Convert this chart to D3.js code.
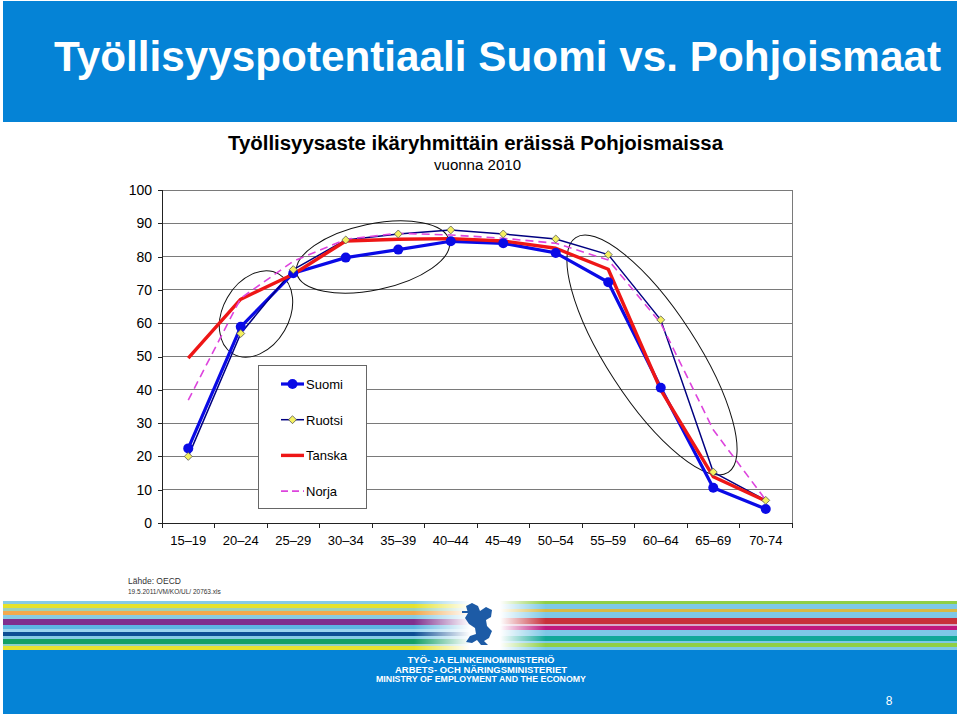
<!DOCTYPE html>
<html>
<head>
<meta charset="utf-8">
<script src="https://cdn.jsdelivr.net/npm/d3@7"></script>
<style>
  html, body { margin: 0; padding: 0; background: #fff; }
  svg { display: block; font-family: "Liberation Sans", Arial, sans-serif; }
</style>
</head>
<body>
<svg id="chart" width="960" height="716"></svg>
<script>

// 年齢層 (x 軸のカテゴリ)
const ageGroups = ["15\u201319", "20\u201324", "25\u201329", "30\u201334", "35\u201339", "40\u201344",
  "45\u201349", "50\u201354", "55\u201359", "60\u201364", "65\u201369", "70-74"];

// 各国の就業率 (%)
const suomi  = [22.4, 58.9, 75.0, 79.7, 82.1, 84.6, 84.0, 81.1, 72.3, 40.6, 10.6, 4.2];
const ruotsi = [20.0, 56.9, 76.1, 85.0, 86.8, 88.0, 86.8, 85.3, 80.6, 61.0, 15.3, 6.8];
const tanska = [49.5, 67.2, 74.7, 84.7, 85.2, 85.4, 84.7, 82.5, 76.2, 40.0, 13.9, 6.6];
const norja  = [36.9, 67.5, 78.6, 85.2, 87.0, 86.5, 85.5, 84.0, 79.0, 60.0, 28.0, 6.9];

// 凡例の名前
const seriesNames = ["Suomi", "Ruotsi", "Tanska", "Norja"];

// y 軸の目盛り
const yTicks = [0, 10, 20, 30, 40, 50, 60, 70, 80, 90, 100];

// 見出しのテキスト
const titleText = "Työllisyyspotentiaali Suomi vs. Pohjoismaat";
const chartTitle = "Työllisyysaste ikäryhmittäin eräissä Pohjoismaissa";
const chartSubtitle = "vuonna 2010";
const sourceLines = ["Lähde: OECD", "19.5.2011/VM/KO/UL/ 20763.xls"];
const ministryLines = ["TYÖ- JA ELINKEINOMINISTERIÖ", "ARBETS- OCH NÄRINGSMINISTERIET",
  "MINISTRY OF EMPLOYMENT AND THE ECONOMY"];
const pageNumber = "8";

// 系列ごとのスタイル
const styles = {
  Suomi:  {values: suomi,  color: "#0a0ae6", width: 3.2, dash: null, marker: "circle"},
  Ruotsi: {values: ruotsi, color: "#000080", width: 1.5, dash: null, marker: "diamond"},
  Tanska: {values: tanska, color: "#ee1616", width: 3.4, dash: null, marker: null},
  Norja:  {values: norja,  color: "#dd44dd", width: 1.6, dash: "8,5", marker: null}
};

const svg = d3.select("#chart");

/* ---------- 上部の青い帯とタイトル ---------- */
svg.append("rect")
  .attr("x", 3).attr("y", 1).attr("width", 954).attr("height", 121)
  .attr("fill", "#0583d6");

svg.append("text")
  .attr("x", 54).attr("y", 71)
  .attr("fill", "#fff")
  .attr("font-size", 43)
  .attr("font-weight", "bold")
  .attr("textLength", 887)
  .attr("lengthAdjust", "spacingAndGlyphs")
  .text(titleText);

svg.append("text")
  .attr("x", 228).attr("y", 150)
  .attr("font-size", 20)
  .attr("font-weight", "bold")
  .attr("textLength", 495)
  .attr("lengthAdjust", "spacingAndGlyphs")
  .text(chartTitle);

svg.append("text")
  .attr("x", 434).attr("y", 170)
  .attr("font-size", 14)
  .attr("textLength", 87)
  .attr("lengthAdjust", "spacingAndGlyphs")
  .text(chartSubtitle);

/* ---------- グラフ本体 ---------- */
const plot = {left: 162, right: 792, top: 190, bottom: 523};

const x = d3.scaleBand()
  .domain(ageGroups)
  .range([plot.left, plot.right]);

const y = d3.scaleLinear()
  .domain([0, 100])
  .range([plot.bottom, plot.top]);

// 横の罫線
svg.append("g")
  .selectAll("line")
  .data(yTicks.filter(d => d > 0))
  .join("line")
  .attr("x1", plot.left).attr("x2", plot.right)
  .attr("y1", d => y(d)).attr("y2", d => y(d))
  .attr("stroke", "#7a7a7a")
  .attr("stroke-width", 1)
  .attr("shape-rendering", "crispEdges");

// 右端の枠線
svg.append("line")
  .attr("x1", plot.right).attr("x2", plot.right)
  .attr("y1", plot.top).attr("y2", plot.bottom)
  .attr("stroke", "#7a7a7a")
  .attr("shape-rendering", "crispEdges");

// y 軸
const yAxis = svg.append("g")
  .attr("transform", `translate(${plot.left},0)`)
  .call(d3.axisLeft(y).tickValues(yTicks).tickSize(4).tickPadding(6));
yAxis.selectAll("text").attr("font-size", 14).attr("fill", "#000")
  .attr("font-family", "Liberation Sans, Arial, sans-serif");
yAxis.selectAll("line, path").attr("stroke", "#222").attr("shape-rendering", "crispEdges");

// x 軸 (ラベルのみ、目盛りはカテゴリの境界に描く)
const xAxis = svg.append("g")
  .attr("transform", `translate(0,${plot.bottom})`)
  .call(d3.axisBottom(x).tickSize(0).tickPadding(13).tickSizeOuter(0));
xAxis.selectAll("text").attr("font-size", 13).attr("fill", "#000")
  .attr("font-family", "Liberation Sans, Arial, sans-serif");
xAxis.select("path").attr("stroke", "#222").attr("shape-rendering", "crispEdges");

const bounds = ageGroups.map(d => x(d)).concat([x.range()[1]]);
xAxis.selectAll("line.bound")
  .data(bounds)
  .join("line")
  .attr("class", "bound")
  .attr("x1", d => d).attr("x2", d => d)
  .attr("y1", 0).attr("y2", 5)
  .attr("stroke", "#222")
  .attr("shape-rendering", "crispEdges");

// 注釈の楕円
const ellipses = [
  {cx: 256, cy: 314, rx: 46, ry: 33, rot: -60},
  {cx: 373, cy: 257, rx: 78, ry: 33, rot: -12},
  {cx: 652, cy: 355, rx: 140, ry: 45, rot: 57}
];
svg.append("g")
  .selectAll("ellipse")
  .data(ellipses)
  .join("ellipse")
  .attr("transform", d => `translate(${d.cx},${d.cy}) rotate(${d.rot})`)
  .attr("rx", d => d.rx).attr("ry", d => d.ry)
  .attr("fill", "none")
  .attr("stroke", "#111")
  .attr("stroke-width", 1);

// 折れ線
const cx = d => x(d) + x.bandwidth() / 2;
const line = d3.line()
  .x((v, i) => cx(ageGroups[i]))
  .y(v => y(v));

const lines = svg.append("g");
seriesNames.forEach(name => {
  const s = styles[name];
  lines.append("path")
    .datum(s.values)
    .attr("d", line)
    .attr("fill", "none")
    .attr("stroke", s.color)
    .attr("stroke-width", s.width)
    .attr("stroke-dasharray", s.dash)
    .attr("stroke-linejoin", "round");
});

// マーカー
const diamond = d3.symbol().type(d3.symbolDiamond2).size(40);
seriesNames.forEach(name => {
  const s = styles[name];
  if (s.marker === "circle") {
    lines.append("g").selectAll("circle")
      .data(s.values)
      .join("circle")
      .attr("cx", (v, i) => cx(ageGroups[i]))
      .attr("cy", v => y(v))
      .attr("r", 5)
      .attr("fill", s.color);
  } else if (s.marker === "diamond") {
    lines.append("g").selectAll("path")
      .data(s.values)
      .join("path")
      .attr("d", diamond)
      .attr("transform", (v, i) => `translate(${cx(ageGroups[i])},${y(v)})`)
      .attr("fill", "#f4f060")
      .attr("stroke", "#555")
      .attr("stroke-width", 0.8);
  }
});

// 凡例
const legend = svg.append("g").attr("transform", "translate(258,365)");
legend.append("rect")
  .attr("x", 0.5).attr("y", 0.5).attr("width", 108).attr("height", 143)
  .attr("fill", "#fff")
  .attr("stroke", "#666");

seriesNames.forEach((name, i) => {
  const s = styles[name];
  const ly = 19 + i * 35.7;
  const g = legend.append("g").attr("transform", `translate(0,${ly})`);
  g.append("line")
    .attr("x1", 23).attr("x2", 46)
    .attr("stroke", s.color)
    .attr("stroke-width", s.width)
    .attr("stroke-dasharray", s.dash ? "7,4" : null);
  if (s.marker === "circle") {
    g.append("circle").attr("cx", 34.5).attr("r", 5).attr("fill", s.color);
  } else if (s.marker === "diamond") {
    g.append("path").attr("d", diamond).attr("transform", "translate(34.5,0)")
      .attr("fill", "#f4f060").attr("stroke", "#555").attr("stroke-width", 0.8);
  }
  g.append("text")
    .attr("x", 48).attr("y", 5)
    .attr("font-size", 13)
    .text(name);
});

/* ---------- 出典 ---------- */
svg.append("text")
  .attr("x", 128).attr("y", 584)
  .attr("font-size", 8.5).attr("fill", "#333")
  .text(sourceLines[0]);
svg.append("text")
  .attr("x", 128).attr("y", 594)
  .attr("font-size", 6.5).attr("fill", "#333")
  .text(sourceLines[1]);

/* ---------- 下部のストライプ ---------- */
const leftStripes = [
  ["#86cbe6", 3], ["#e6e22a", 4], ["#9fd2b6", 3], ["#f2a94e", 4], ["#86cbe6", 4],
  ["#7f2f8e", 6], ["#5db6e2", 4], ["#9ad4ef", 3], ["#0c4e94", 4], ["#86cbe6", 3],
  ["#14a064", 5], ["#8fd0c8", 2], ["#e8e22e", 4]
];
const rightStripes = [
  ["#8fcf44", 3], ["#7ec8e6", 5], ["#d8b844", 3], ["#7ec8e6", 6], ["#c8303a", 6],
  ["#d8a8c8", 2], ["#c0187e", 4], ["#7ec8e6", 6], ["#12a898", 5], ["#7ec8e6", 2],
  ["#8fcf44", 4], ["#7ec8e6", 3]
];

const defs = svg.append("defs");
const gl = defs.append("linearGradient").attr("id", "fadeL")
  .attr("gradientUnits", "userSpaceOnUse").attr("x1", 3).attr("x2", 470);
gl.append("stop").attr("offset", 0.88).attr("stop-color", "#fff");
gl.append("stop").attr("offset", 1).attr("stop-color", "#000");
defs.append("mask").attr("id", "maskL")
  .append("rect").attr("x", 0).attr("y", 590).attr("width", 960).attr("height", 70)
  .attr("fill", "url(#fadeL)");

const gr = defs.append("linearGradient").attr("id", "fadeR")
  .attr("gradientUnits", "userSpaceOnUse").attr("x1", 500).attr("x2", 957);
gr.append("stop").attr("offset", 0).attr("stop-color", "#000");
gr.append("stop").attr("offset", 0.1).attr("stop-color", "#fff");
defs.append("mask").attr("id", "maskR")
  .append("rect").attr("x", 0).attr("y", 590).attr("width", 960).attr("height", 70)
  .attr("fill", "url(#fadeR)");

function drawStripes(list, x0, x1, maskId) {
  const g = svg.append("g").attr("mask", `url(#${maskId})`);
  let yy = 601;
  list.forEach(([color, h]) => {
    g.append("rect")
      .attr("x", x0).attr("y", yy).attr("width", x1 - x0).attr("height", h)
      .attr("fill", color);
    yy += h;
  });
}
drawStripes(leftStripes, 3, 480, "maskL");
drawStripes(rightStripes, 490, 957, "maskR");

// 紋章 (ライオン) の簡略形
const lion = svg.append("g").attr("fill", "#1d5ba6");
lion.append("path").attr("d",
  "M466,606 L472,603 L478,606 L480,611 L486,607 L492,610 L491,617 L486,620 L487,626 " +
  "L492,631 L489,638 L484,641 L488,645 L481,645 L477,640 L472,643 L466,642 L470,636 " +
  "L476,634 L475,628 L469,624 L465,618 L468,613 Z");
lion.append("rect").attr("x", 462).attr("y", 611).attr("width", 9).attr("height", 2);

/* ---------- 下部の青い帯 ---------- */
svg.append("rect")
  .attr("x", 3).attr("y", 650).attr("width", 954).attr("height", 64)
  .attr("fill", "#0583d6");

ministryLines.forEach((t, i) => {
  svg.append("text")
    .attr("x", 481).attr("y", 663 + i * 9.5)
    .attr("text-anchor", "middle")
    .attr("font-size", 8.5)
    .attr("font-weight", "bold")
    .attr("fill", "#fff")
    .attr("textLength", [147, 172, 210][i])
    .attr("lengthAdjust", "spacingAndGlyphs")
    .text(t);
});

svg.append("text")
  .attr("x", 889).attr("y", 705)
  .attr("text-anchor", "middle")
  .attr("font-size", 12)
  .attr("fill", "#fff")
  .text(pageNumber);

</script>
</body>
</html>
